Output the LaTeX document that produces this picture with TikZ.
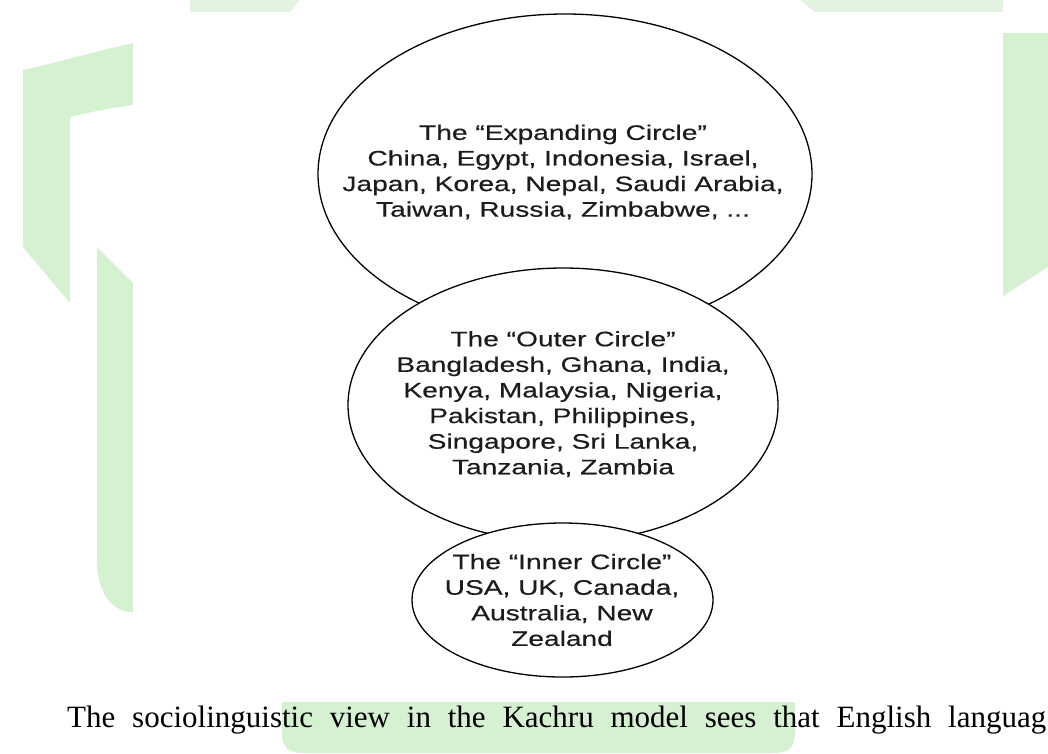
\documentclass[tikz,border=0pt]{standalone}
\usepackage{fontspec}
\setmainfont{Liberation Serif}
\newfontfamily\diagfont[FakeStretch=1.34,FakeBold=0.4]{Liberation Sans}
\newfontfamily\capfont{Liberation Serif}
\usetikzlibrary{shapes.geometric}
\definecolor{wm}{RGB}{214,240,210}
\definecolor{ink}{RGB}{28,28,28}
\begin{document}
\begin{tikzpicture}[x=1pt,y=-1pt,
  ring/.style={draw=black, line width=1.3pt, fill=white, ellipse, inner sep=0pt, outer sep=0pt},
  lbl/.style={align=center, font=\diagfont\fontsize{21}{25.6}\selectfont, text=ink, inner sep=0pt},
  wmark/.style={fill=wm, draw=none}]
\useasboundingbox (0,0) rectangle (1048,753);
\fill[white] (0,0) rectangle (1048,753);
% watermark pieces
\fill[wmark] (23,70) .. controls (60,62) and (100,50) .. (133,43) -- (133,105) .. controls (110,108) and (90,112) .. (70,117) -- (70,303) -- (23,247) -- cycle;
\fill[wmark] (97,247) -- (133,283) -- (133,612) .. controls (110,612) and (97,590) .. (97,560) -- cycle;
\fill[wmark] (1003,33) -- (1048,33) -- (1048,267) -- (1003,296) -- cycle;
\fill[wmark, opacity=0.7] (190,0) -- (300,0) -- (290,12) -- (190,12) -- cycle;
\fill[wmark, opacity=0.7] (800,0) -- (1003,0) -- (1003,12) -- (815,12) -- cycle;
% white panel
\fill[white] (133,12) rectangle (1003,702);
% bottom highlight
\fill[wmark] (282,702) -- (795,702) -- (795,733) .. controls (795,748) and (788,753) .. (773,753) -- (304,753) .. controls (289,753) and (282,748) .. (282,733) -- cycle;
% circles
\node[ring, minimum width=494pt, minimum height=320pt] (expanding) at (565,174) {};
\node[ring, minimum width=430pt, minimum height=274pt] (outer) at (563,405) {};
\node[ring, minimum width=301pt, minimum height=154pt] (inner) at (562.5,600) {};
\node[lbl] (expandingtext) at (563,172) {The “Expanding Circle”\\China, Egypt, Indonesia, Israel,\\Japan, Korea, Nepal, Saudi Arabia,\\Taiwan, Russia, Zimbabwe, ...};
\node[lbl] (outertext) at (563,404) {The “Outer Circle”\\Bangladesh, Ghana, India,\\Kenya, Malaysia, Nigeria,\\Pakistan, Philippines,\\Singapore, Sri Lanka,\\Tanzania, Zambia};
\node[lbl] (innertext) at (562,600) {The “Inner Circle”\\USA, UK, Canada,\\Australia, New\\Zealand};
% caption
\node[anchor=base west, inner sep=0pt, font=\capfont\fontsize{31}{36}\selectfont] (caption) at (67,727) {\makebox[979pt][s]{The sociolinguistic view in the Kachru model sees that English languag}};
\end{tikzpicture}
\end{document}
